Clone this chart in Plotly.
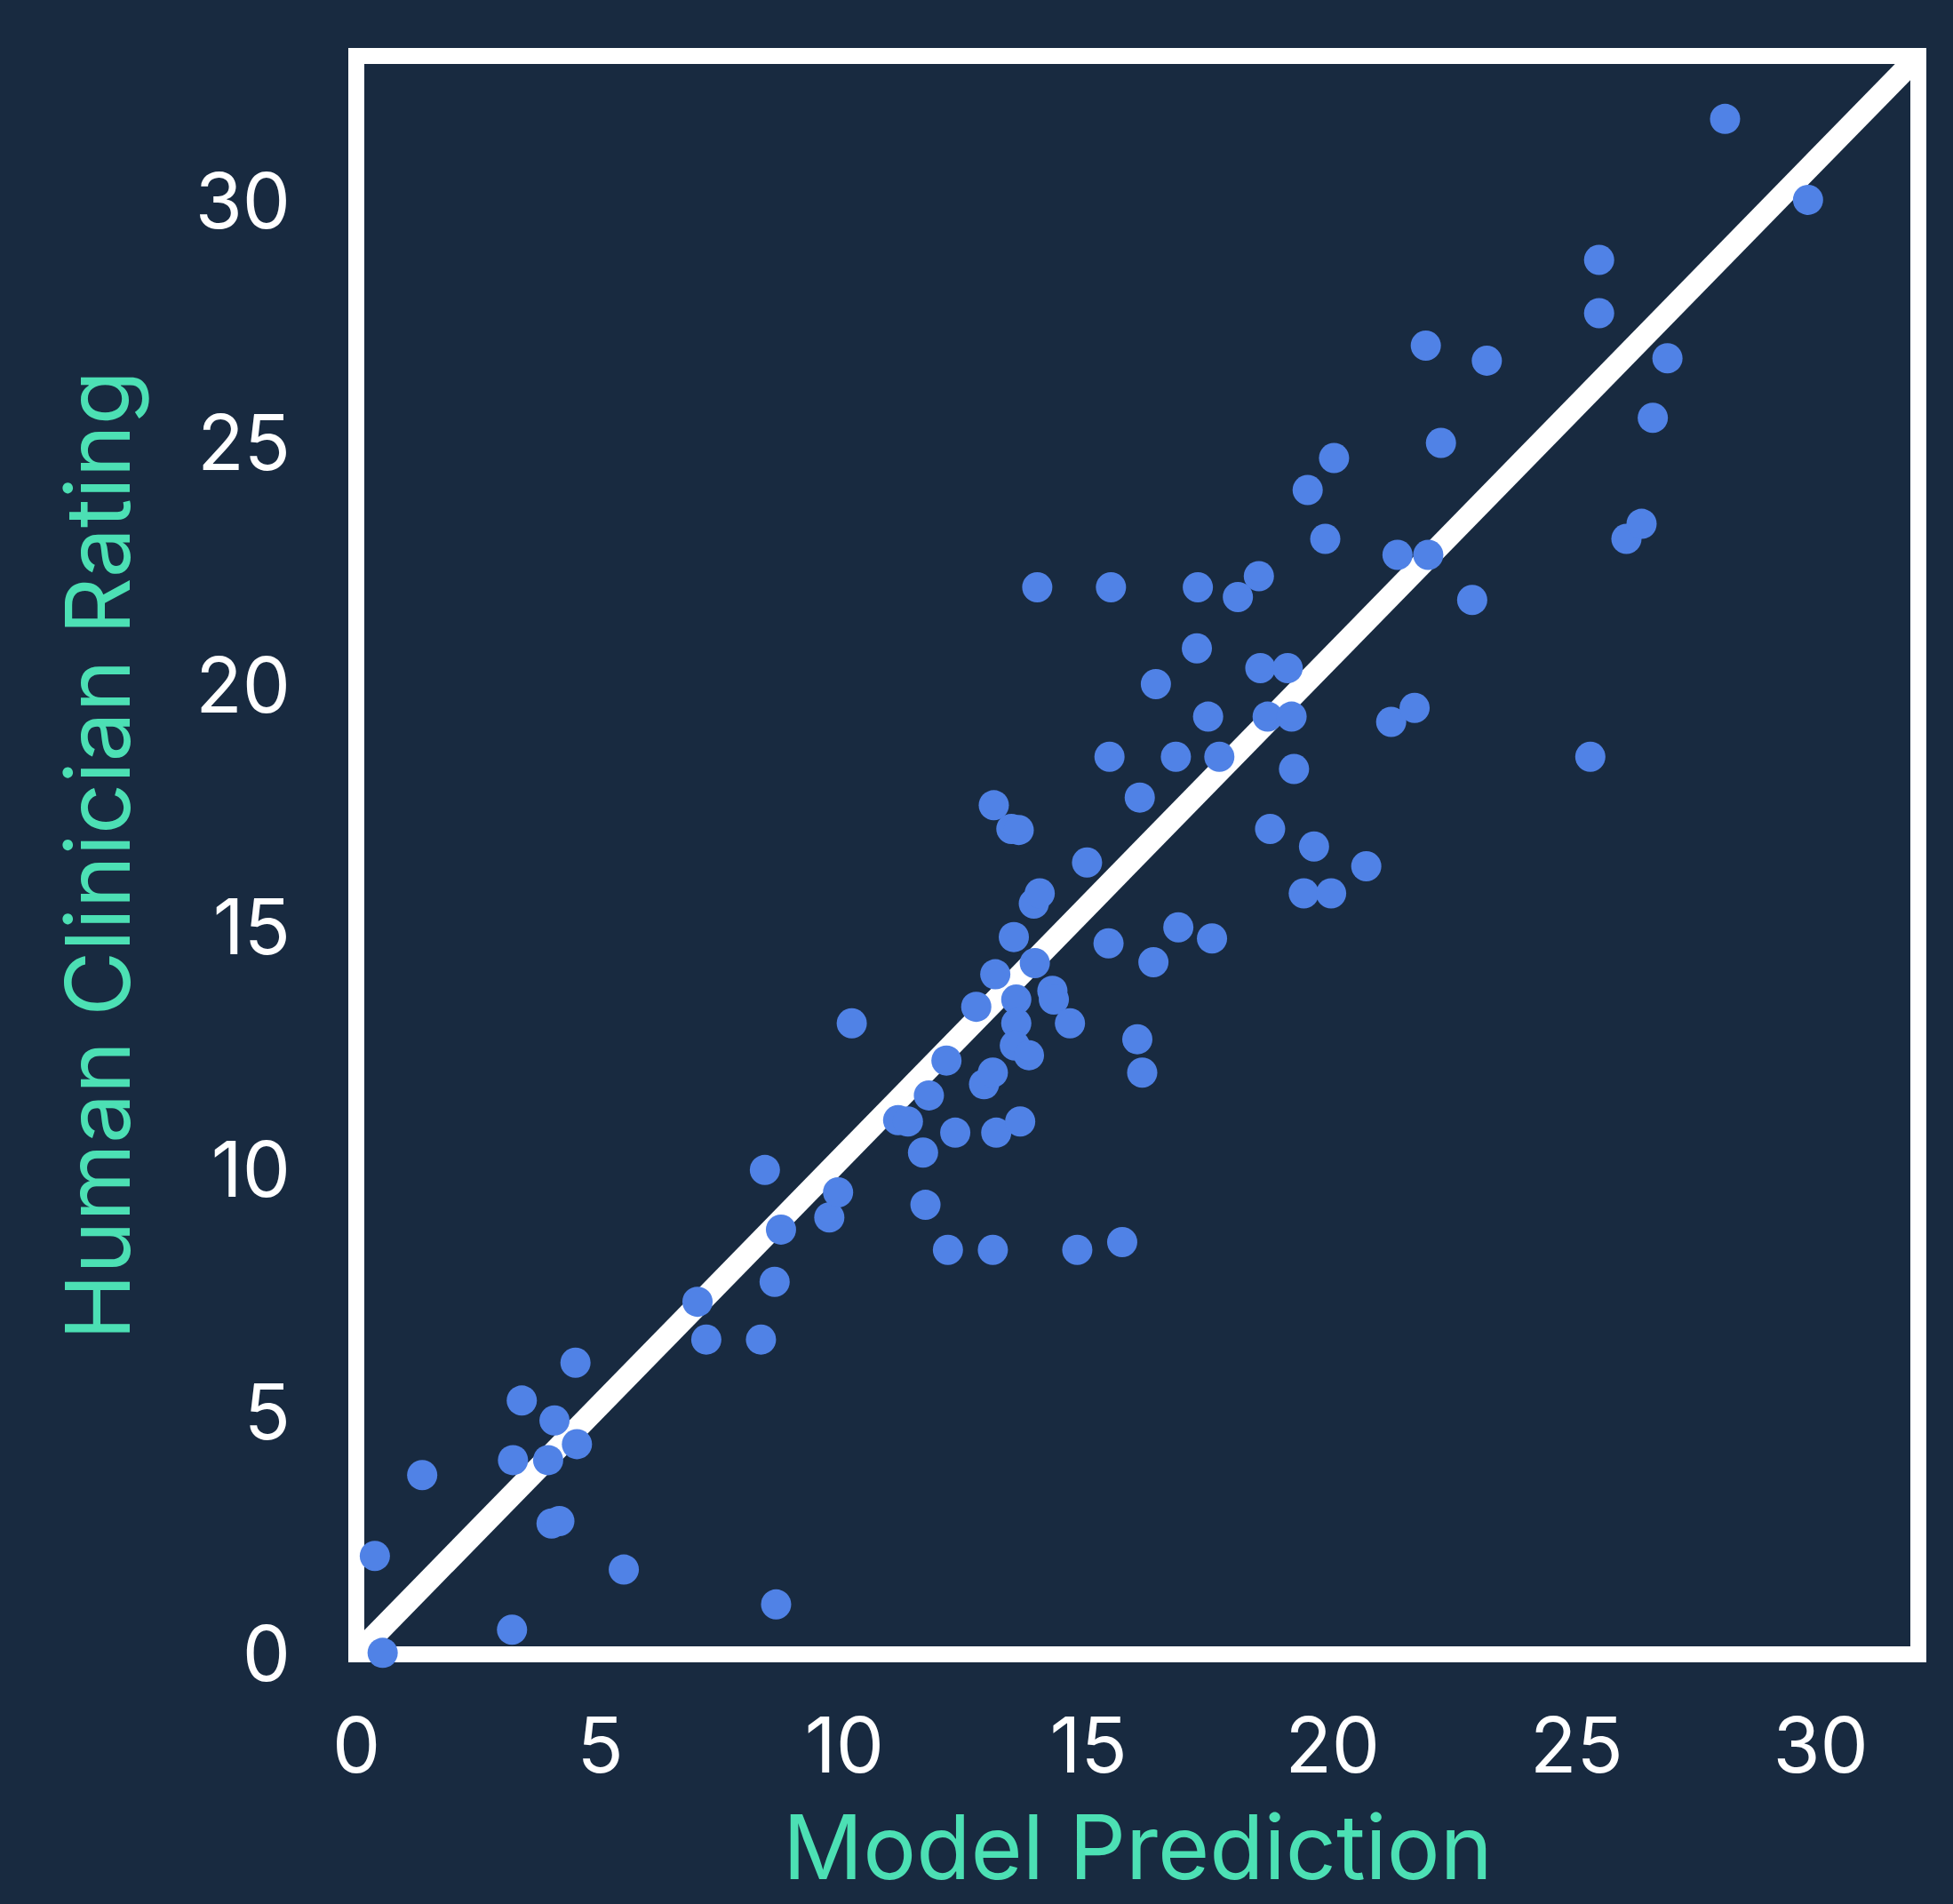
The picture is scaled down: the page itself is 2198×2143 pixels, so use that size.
import plotly.graph_objects as go

# Data
model_prediction = [
    0.38, 0.54, 1.35, 3.19, 3.21, 3.39, 3.93, 4.06, 4.00, 4.16,
    4.49, 4.52, 5.48, 6.99, 7.17, 8.29, 8.37, 8.57, 8.60, 8.70,
    9.69, 9.87, 10.15, 11.10, 11.30, 11.61, 11.66, 11.73, 12.09, 12.12,
    12.27, 12.70, 12.86, 13.04, 13.04, 13.06, 13.09, 13.11, 13.42, 13.57,
    13.47, 13.52, 13.52, 13.49, 13.60, 13.78, 13.88, 14.00, 13.90, 13.95,
    14.26, 14.29, 14.62, 14.77, 14.97, 15.41, 15.43, 15.46, 15.69, 16.00,
    16.05, 16.10, 16.33, 16.38, 16.79, 16.84, 17.22, 17.24, 17.45, 17.53,
    17.68, 18.06, 18.49, 18.52, 18.67, 18.72, 19.08, 19.16, 19.21, 19.41,
    19.49, 19.62, 19.85, 19.97, 20.03, 20.69, 21.20, 21.33, 21.68, 21.91,
    21.96, 22.22, 22.86, 23.16, 25.28, 25.46, 25.46, 26.02, 26.33, 26.56,
    26.86, 28.04, 29.74,
]
clinician_rating = [
    2.03, 0.03, 3.70, 0.51, 4.01, 5.24, 4.01, 4.83, 2.70, 2.75,
    6.02, 4.34, 1.75, 7.28, 6.50, 6.50, 10.00, 7.69, 1.03, 8.77,
    9.02, 9.54, 13.03, 11.03, 11.00, 10.36, 9.28, 11.54, 12.26, 8.35,
    10.77, 13.37, 11.77, 12.01, 8.35, 17.53, 14.04, 10.77, 17.04, 17.02,
    14.81, 13.52, 13.03, 12.57, 11.00, 12.37, 15.50, 15.71, 14.27, 22.03,
    13.70, 13.52, 13.03, 8.35, 16.35, 14.68, 18.53, 22.03, 8.51, 12.70,
    17.69, 12.01, 14.29, 20.03, 18.53, 15.01, 20.77, 22.03, 19.36, 14.78,
    18.53, 21.83, 22.26, 20.36, 19.36, 17.04, 20.36, 19.36, 18.28, 15.71,
    24.04, 16.68, 23.03, 15.71, 24.70, 16.27, 19.25, 22.70, 19.54, 27.02,
    22.70, 25.01, 21.77, 26.71, 18.53, 28.79, 27.69, 23.03, 23.34, 25.53,
    26.76, 31.70, 30.03,
]

x_limits = [0, 32]
y_limits = [0, 33]
tick_values = [0, 5, 10, 15, 20, 25, 30]
tick_labels = ["0", "5", "10", "15", "20", "25", "30"]
x_title = "Model Prediction"
y_title = "Human Clinician Rating"

BG = "#182A40"
BLUE = "#5082E6"
TEAL = "#4CE0B4"
WHITE = "#FFFFFF"
FONT = "Inter, Lato, sans-serif"

fig = go.Figure()

# reference line across the plot (corner to corner)
fig.add_trace(go.Scatter(
    x=x_limits, y=y_limits, mode="lines",
    line=dict(color=WHITE, width=25),
    hoverinfo="skip", showlegend=False,
))

fig.add_trace(go.Scatter(
    x=model_prediction, y=clinician_rating, mode="markers",
    marker=dict(color=BLUE, size=34, line=dict(width=0)),
    cliponaxis=False, showlegend=False,
))

# frame around the plotting area
fig.add_shape(type="rect", xref="paper", yref="paper", x0=0, y0=0, x1=1, y1=1,
              line=dict(color=WHITE, width=18), layer="below")

# x-axis title, sitting at the bottom edge of the figure
fig.add_annotation(
    text=x_title, xref="paper", yref="paper", x=0.5, y=-0.155,
    xanchor="center", yanchor="bottom", showarrow=False,
    font=dict(size=100, color=TEAL, family=FONT),
)

fig.update_layout(
    width=2198, height=2143,
    paper_bgcolor=BG, plot_bgcolor=BG,
    margin=dict(l=401, r=39, t=63, b=281),
    font=dict(family=FONT, color=WHITE),
    showlegend=False,
)
fig.update_xaxes(
    range=x_limits, tickvals=tick_values, ticktext=tick_labels,
    showgrid=False, zeroline=False, showline=False, ticks="",
    tickfont=dict(size=86, color=WHITE, family=FONT),
    ticklabelstandoff=46,
    automargin=False,
)
fig.update_yaxes(
    range=y_limits, tickvals=tick_values, ticktext=tick_labels,
    showgrid=False, zeroline=False, showline=False, ticks="",
    tickfont=dict(size=86, color=WHITE, family=FONT),
    ticklabelstandoff=73,
    automargin=False,
    title=dict(text=y_title, font=dict(size=100, color=TEAL, family=FONT), standoff=39),
)

fig.write_html("out.html")
